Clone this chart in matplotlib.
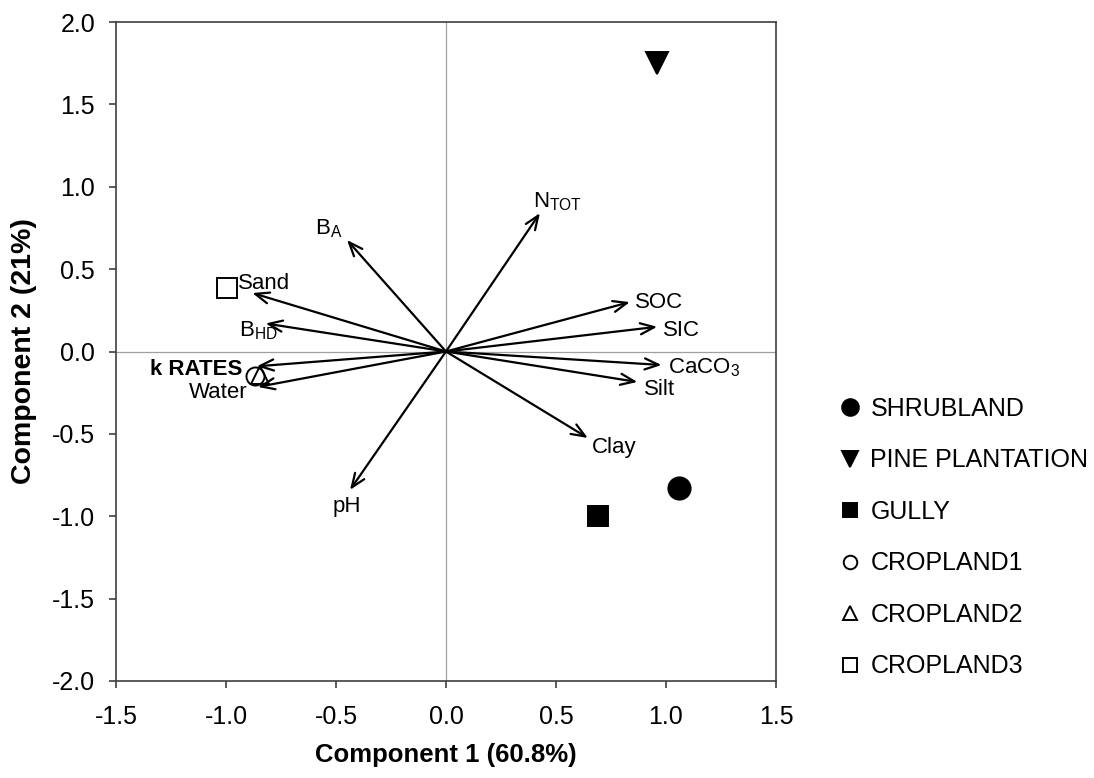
import matplotlib
matplotlib.use("Agg")
import matplotlib.pyplot as plt
from matplotlib.lines import Line2D

plt.rcParams['font.family'] = ['Liberation Sans', 'DejaVu Sans']
plt.rcParams['mathtext.default'] = 'regular'

# Variable loadings (arrow tips)
variables = ['B$_{A}$', 'Sand', 'B$_{HD}$', 'k RATES', 'Water', 'pH',
             'N$_{TOT}$', 'SOC', 'SIC', 'CaCO$_{3}$', 'Silt', 'Clay']
load_x = [-0.45, -0.88, -0.82, -0.86, -0.855, -0.436,
          0.427, 0.836, 0.96, 0.98, 0.87, 0.645]
load_y = [0.677, 0.355, 0.17, -0.09, -0.215, -0.84,
          0.84, 0.30, 0.15, -0.082, -0.185, -0.525]

# Site scores
sites = ['SHRUBLAND', 'PINE PLANTATION', 'GULLY', 'CROPLAND1', 'CROPLAND2', 'CROPLAND3']
site_x = [1.059, 0.959, 0.691, -0.87, -0.845, -0.995]
site_y = [-0.828, 1.751, -0.998, -0.15, -0.14, 0.385]

# styles / label placement (not data)
site_markers = ['o', 'v', 's', 'o', '^', 's']
site_filled = [True, True, True, False, False, False]
site_sizes = [16, 16, 14, 13, 13, 14]
label_pos = [(-0.595, 0.71, 'left'), (-0.945, 0.38, 'left'), (-0.94, 0.09, 'left'),
             (-0.927, -0.143, 'right'), (-0.90, -0.28, 'right'), (-0.514, -0.974, 'left'),
             (0.395, 0.877, 'left'), (0.86, 0.265, 'left'), (0.986, 0.094, 'left'),
             (1.01, -0.13, 'left'), (0.90, -0.264, 'left'), (0.664, -0.616, 'left')]

fig = plt.figure(figsize=(10.94, 7.78), dpi=100)
ax = fig.add_axes([0.106, 0.1247, 0.6033, 0.847])

ax.axhline(0, color='#a0a0a0', lw=0.9, zorder=1)
ax.axvline(0, color='#a0a0a0', lw=0.9, zorder=1)

for name, lx, ly, (tx, ty, ha) in zip(variables, load_x, load_y, label_pos):
    ax.annotate('', xy=(lx, ly), xytext=(0, 0),
                arrowprops=dict(arrowstyle='->,head_length=1.0,head_width=0.4',
                                color='black', lw=1.6, shrinkA=0, shrinkB=0),
                zorder=3)
    weight = 'bold' if name == 'k RATES' else 'normal'
    ax.text(tx, ty, name, ha=ha, va='baseline', fontsize=16, fontweight=weight,
            color='black', zorder=4)

handles = []
for name, sx, sy, m, filled, ms in zip(sites, site_x, site_y, site_markers, site_filled, site_sizes):
    fc = 'black' if filled else 'none'
    ax.plot([sx], [sy], linestyle='none', marker=m, markersize=ms,
            markerfacecolor=fc, markeredgecolor='black', markeredgewidth=1.4, zorder=5)
    handles.append(Line2D([], [], linestyle='none', marker=m, markersize=ms * 0.75,
                          markerfacecolor=fc, markeredgecolor='black',
                          markeredgewidth=1.4, label=name))

ax.set_xlim(-1.5, 1.5)
ax.set_ylim(-2.0, 2.0)
ax.set_xticks([-1.5, -1.0, -0.5, 0.0, 0.5, 1.0, 1.5])
ax.set_yticks([-2.0, -1.5, -1.0, -0.5, 0.0, 0.5, 1.0, 1.5, 2.0])
ax.set_xticklabels([f'{v:.1f}' for v in ax.get_xticks()])
ax.set_yticklabels([f'{v:.1f}' for v in ax.get_yticks()])
ax.tick_params(axis='both', direction='out', length=5, width=1.2, labelsize=18,
               top=False, right=False, color='#404040')
ax.tick_params(axis='x', pad=12)
ax.tick_params(axis='y', pad=10)
for s in ax.spines.values():
    s.set_color('#404040')
    s.set_linewidth(1.2)

ax.set_xlabel('Component 1 (60.8%)', fontsize=18.5, fontweight='bold')
ax.set_ylabel('Component 2 (21%)', fontsize=20.5, fontweight='bold')
ax.xaxis.set_label_coords(0.5, -0.094)
ax.yaxis.set_label_coords(-0.12, 0.5)

fig.legend(handles=handles, loc='upper left', bbox_to_anchor=(0.7655, 0.49),
           frameon=False, fontsize=18, handlelength=1.0, handletextpad=0.32,
           labelspacing=1.1, borderpad=0, borderaxespad=0)

fig.savefig('out.png', dpi=100)
